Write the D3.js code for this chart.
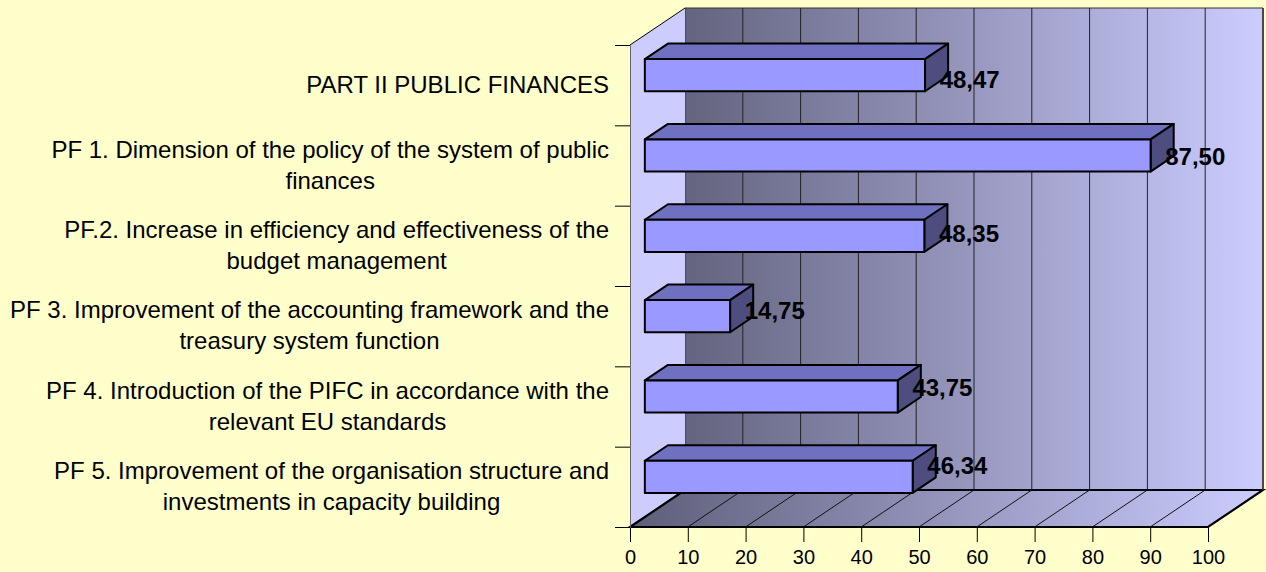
<!DOCTYPE html>
<html>
<head>
<meta charset="utf-8">
<script src="https://cdn.jsdelivr.net/npm/d3@7"></script>
<style>
  body { margin: 0; background: #FFFFCC; }
  svg { display: block; font-family: "Liberation Sans", Arial, sans-serif; }
  .catLabel { font-size: 24px; fill: #000; }
  .valLabel { font-size: 24px; font-weight: bold; fill: #000; }
  .axis text { font-size: 20px; fill: #000; font-family: "Liberation Sans", Arial, sans-serif; }
</style>
</head>
<body>
<div id="chart"></div>
<script>
// datos del gráfico
const categories = ["PART II", "PF 1", "PF 2", "PF 3", "PF 4", "PF 5"]
const labelLines = [
    ["PART II PUBLIC FINANCES"],
    ["PF 1. Dimension of the policy of the system of public", "finances"],
    ["PF.2. Increase in efficiency and effectiveness of the", "budget management"],
    ["PF 3. Improvement of the accounting framework and the", "treasury system function"],
    ["PF 4. Introduction of the PIFC in accordance with the", "relevant EU standards"],
    ["PF 5. Improvement of the organisation structure and", "investments in capacity building"]
]
const values = [48.47, 87.50, 48.35, 14.75, 43.75, 46.34]
const xTicks = [0, 10, 20, 30, 40, 50, 60, 70, 80, 90, 100]

// ----------------------------------------------------------

const width = 1266
const height = 572
const plot = { left: 630, right: 1208, top: 45, bottom: 527 }
// desplazamiento de profundidad (efecto 3D)
const depth = { dx: 55, dy: 37 }
const barDepth = [0.27, 0.69]

const svg = d3.select("div#chart").append("svg")
    .attr("width", width)
    .attr("height", height)

const defs = svg.append("defs")
const grad = defs.append("linearGradient").attr("id", "wallGrad")
    .attr("gradientUnits", "userSpaceOnUse")
    .attr("x1", plot.left + depth.dx).attr("x2", plot.right + depth.dx)
    .attr("y1", 0).attr("y2", 0)
grad.append("stop").attr("offset", "0%").attr("stop-color", "#646480")
grad.append("stop").attr("offset", "100%").attr("stop-color", "#CCCCFF")

const floorGrad = defs.append("linearGradient").attr("id", "floorGrad")
    .attr("gradientUnits", "userSpaceOnUse")
    .attr("x1", plot.left).attr("x2", plot.right + depth.dx)
    .attr("y1", 0).attr("y2", 0)
floorGrad.append("stop").attr("offset", "0%").attr("stop-color", "#5E5E7A")
floorGrad.append("stop").attr("offset", "100%").attr("stop-color", "#CCCCFF")

// escalas
const scaleX = d3.scaleLinear().domain([0, 100]).range([plot.left, plot.right])
const scaleY = d3.scaleBand().domain(categories).range([plot.top, plot.bottom])
    .paddingInner(0.6).paddingOuter(0.3)
const scaleYTicks = d3.scaleLinear().domain([0, categories.length]).range([plot.bottom, plot.top])
// Excel coloca las etiquetas de valor con un paso algo menor que el de las barras
const scaleLabelY = d3.scalePoint().domain(categories).range([plot.top + 34, plot.bottom - 62])

// proyección: valor, y en plano frontal, profundidad 0..1
const P = (v, yf, d) => [scaleX(v) + d * depth.dx, yf - d * depth.dy]
const pts = arr => arr.map(p => p.join(",")).join(" ")

const walls = svg.append("g").attr("id", "walls")

// pared del fondo
walls.append("polygon")
    .attr("points", pts([P(0, plot.top, 1), P(100, plot.top, 1), P(100, plot.bottom, 1), P(0, plot.bottom, 1)]))
    .attr("fill", "url(#wallGrad)").attr("stroke", "#333").attr("stroke-width", 1)

// suelo
walls.append("polygon")
    .attr("points", pts([P(0, plot.bottom, 0), P(100, plot.bottom, 0), P(100, plot.bottom, 1), P(0, plot.bottom, 1)]))
    .attr("fill", "url(#floorGrad)")

// pared izquierda
walls.append("polygon")
    .attr("points", pts([P(0, plot.top, 0), P(0, plot.top, 1), P(0, plot.bottom, 1), P(0, plot.bottom, 0)]))
    .attr("fill", "#CCCCFF")

// rejilla en la pared del fondo
walls.selectAll("line.grid").data(xTicks.slice(1, -1)).enter().append("line")
    .attr("class", "grid")
    .attr("x1", d => P(d, plot.top, 1)[0]).attr("y1", P(0, plot.top, 1)[1])
    .attr("x2", d => P(d, plot.bottom, 1)[0]).attr("y2", P(0, plot.bottom, 1)[1])
    .attr("stroke", "#222").attr("stroke-width", 1)

// rejilla en el suelo
walls.selectAll("line.floorGrid").data(xTicks.slice(1, -1)).enter().append("line")
    .attr("class", "floorGrid")
    .attr("x1", d => P(d, plot.bottom, 0)[0]).attr("y1", plot.bottom)
    .attr("x2", d => P(d, plot.bottom, 1)[0]).attr("y2", P(0, plot.bottom, 1)[1])
    .attr("stroke", "#111").attr("stroke-width", 1)

// bordes gruesos del suelo
walls.append("polyline")
    .attr("points", pts([P(0, plot.bottom, 1), P(100, plot.bottom, 1), P(100, plot.bottom, 0), P(0, plot.bottom, 0), P(0, plot.bottom, 1)]))
    .attr("fill", "none").attr("stroke", "#000").attr("stroke-width", 2.2).attr("stroke-linejoin", "miter")
walls.append("line")
    .attr("x1", P(100, plot.top, 1)[0]).attr("y1", P(0, plot.top, 1)[1])
    .attr("x2", P(100, plot.bottom, 1)[0]).attr("y2", P(0, plot.bottom, 1)[1])
    .attr("stroke", "#333").attr("stroke-width", 1.5)
walls.append("line")
    .attr("x1", P(0, plot.top, 0)[0]).attr("y1", plot.top)
    .attr("x2", P(0, plot.top, 1)[0]).attr("y2", P(0, plot.top, 1)[1])
    .attr("stroke", "#000").attr("stroke-width", 1)

// ejes
const xAxis = d3.axisBottom(scaleX).tickValues(xTicks).tickSize(15).tickPadding(8).tickFormat(d3.format("d"))
const xAxisGroup = svg.append("g").attr("class", "axis")
    .attr("transform", `translate(0, ${plot.bottom})`)
    .call(xAxis)
xAxisGroup.select(".domain").remove()
xAxisGroup.selectAll("line").attr("stroke", "#000")

const yAxis = d3.axisLeft(scaleYTicks).ticks(categories.length).tickSize(15).tickFormat("")
const yAxisGroup = svg.append("g").attr("class", "axis")
    .attr("transform", `translate(${plot.left}, 0)`)
    .call(yAxis)
yAxisGroup.select(".domain").attr("stroke", "#666")
yAxisGroup.selectAll("line").attr("stroke", "#000")

// barras 3D
const bars = svg.append("g").attr("id", "bars")
const barData = categories.map((c, i) => ({ c: c, v: values[i] }))
const [d0, d1] = barDepth

barData.forEach(d => {
    const yt = scaleY(d.c)
    const yb = yt + scaleY.bandwidth()
    // cara superior
    bars.append("polygon")
        .attr("points", pts([P(0, yt, d0), P(d.v, yt, d0), P(d.v, yt, d1), P(0, yt, d1)]))
        .attr("fill", "#7070C0").attr("stroke", "#000").attr("stroke-width", 2).attr("stroke-linejoin", "round")
    // cara lateral
    bars.append("polygon")
        .attr("points", pts([P(d.v, yt, d0), P(d.v, yt, d1), P(d.v, yb, d1), P(d.v, yb, d0)]))
        .attr("fill", "#4D4D80").attr("stroke", "#000").attr("stroke-width", 2).attr("stroke-linejoin", "round")
    // cara frontal
    bars.append("polygon")
        .attr("points", pts([P(0, yt, d0), P(d.v, yt, d0), P(d.v, yb, d0), P(0, yb, d0)]))
        .attr("fill", "#9999FF").attr("stroke", "#000").attr("stroke-width", 2).attr("stroke-linejoin", "round")
})

// etiquetas de valor
const fmt = v => d3.format(".2f")(v).replace(".", ",")
svg.append("g").selectAll("text").data(barData).enter().append("text")
    .attr("class", "valLabel")
    .attr("x", d => P(d.v, 0, 0.5)[0] + 2)
    .attr("y", d => scaleLabelY(d.c))
    .attr("dominant-baseline", "central")
    .text(d => fmt(d.v))

// etiquetas de categoría (centradas, bloque alineado a la derecha)
const labelRight = 609
const lineH = 31
const catGroup = svg.append("g")
categories.forEach((c, i) => {
    const lines = labelLines[i]
    const cy = scaleY(c) + scaleY.bandwidth() / 2 - 1
    const t = catGroup.append("text").attr("class", "catLabel").attr("text-anchor", "middle")
    lines.forEach((l, j) => {
        t.append("tspan").text(l)
            .attr("y", cy + (j - (lines.length - 1) / 2) * lineH)
            .attr("dominant-baseline", "central")
    })
    let maxW = 0
    t.selectAll("tspan").each(function() { maxW = Math.max(maxW, this.getComputedTextLength()) })
    t.selectAll("tspan").attr("x", labelRight - maxW / 2)
})
</script>
</body>
</html>
